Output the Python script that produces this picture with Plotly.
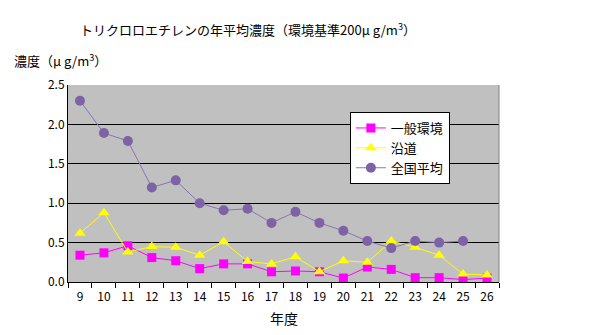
import plotly.graph_objects as go

years = [str(y) for y in range(9, 27)]
general = [0.34, 0.37, 0.46, 0.31, 0.27, 0.17, 0.23, 0.23, 0.13, 0.14, 0.13, 0.05, 0.19, 0.16, 0.055, 0.055, 0.03, 0.05]
roadside = [0.62, 0.88, 0.38, 0.45, 0.44, 0.34, 0.51, 0.26, 0.23, 0.32, 0.13, 0.27, 0.25, 0.52, 0.44, 0.34, 0.10, 0.09]
national = [2.30, 1.89, 1.79, 1.20, 1.29, 1.00, 0.91, 0.93, 0.75, 0.89, 0.75, 0.65, 0.52, 0.43, 0.52, 0.50, 0.52, None]

FONT = "Noto Sans CJK JP"

fig = go.Figure()
fig.add_trace(go.Scatter(x=years, y=general, name="一般環境", mode="lines+markers",
                         line=dict(color="#FF00FF", width=1),
                         marker=dict(symbol="square", size=9, color="#FF00FF")))
fig.add_trace(go.Scatter(x=years, y=roadside, name="沿道", mode="lines+markers",
                         line=dict(color="#FFFF00", width=1),
                         marker=dict(symbol="triangle-up", size=10, color="#FFFF00")))
fig.add_trace(go.Scatter(x=years, y=national, name="全国平均", mode="lines+markers",
                         line=dict(color="#8A74B4", width=1),
                         marker=dict(symbol="circle", size=10, color="#7B63A6")))

fig.update_layout(
    width=606, height=335,
    margin=dict(l=68, r=107, t=85, b=53),
    paper_bgcolor="white", plot_bgcolor="#C0C0C0",
    font=dict(family=FONT, size=12, color="black"),
    showlegend=True,
    legend=dict(x=0.654, y=0.863, xanchor="left", yanchor="top",
                bgcolor="white", bordercolor="black", borderwidth=1,
                font=dict(family=FONT, size=13), tracegroupgap=0,
                itemwidth=30),
    xaxis=dict(type="category", range=[-0.5, len(years) - 0.5], showgrid=False,
               showline=True, linecolor="black",
               linewidth=1, mirror=False, ticks="outside", tickson="boundaries",
               ticklen=5, tickcolor="black", tickfont=dict(size=12), tickangle=0,
               ticklabelstandoff=4),
    yaxis=dict(range=[0, 2.5], dtick=0.5, tickformat=".1f", showgrid=True,
               gridcolor="black", gridwidth=1, showline=True, linecolor="black",
               linewidth=1, ticks="", zeroline=False, tickfont=dict(size=12)),
    annotations=[
        dict(text="トリクロロエチレンの年平均濃度（環境基準200μ g/m<sup>3</sup>）",
             x=0.4176, y=1.284, xref="paper", yref="paper", xanchor="center",
             yanchor="middle", showarrow=False, font=dict(size=13)),
        dict(text="濃度（μ g/m<sup>3</sup>）", x=-0.13, y=1.127, xref="paper", yref="paper",
             xanchor="left", yanchor="middle", showarrow=False, font=dict(size=13)),
        dict(text="年度", x=0.5, y=-0.183, xref="paper", yref="paper",
             xanchor="center", yanchor="middle", showarrow=False, font=dict(size=14)),
    ],
)
# right border of plot area
fig.add_shape(type="line", xref="paper", yref="paper", x0=1, x1=1, y0=0, y1=1,
              line=dict(color="#808080", width=1))

fig.write_html("out.html")
